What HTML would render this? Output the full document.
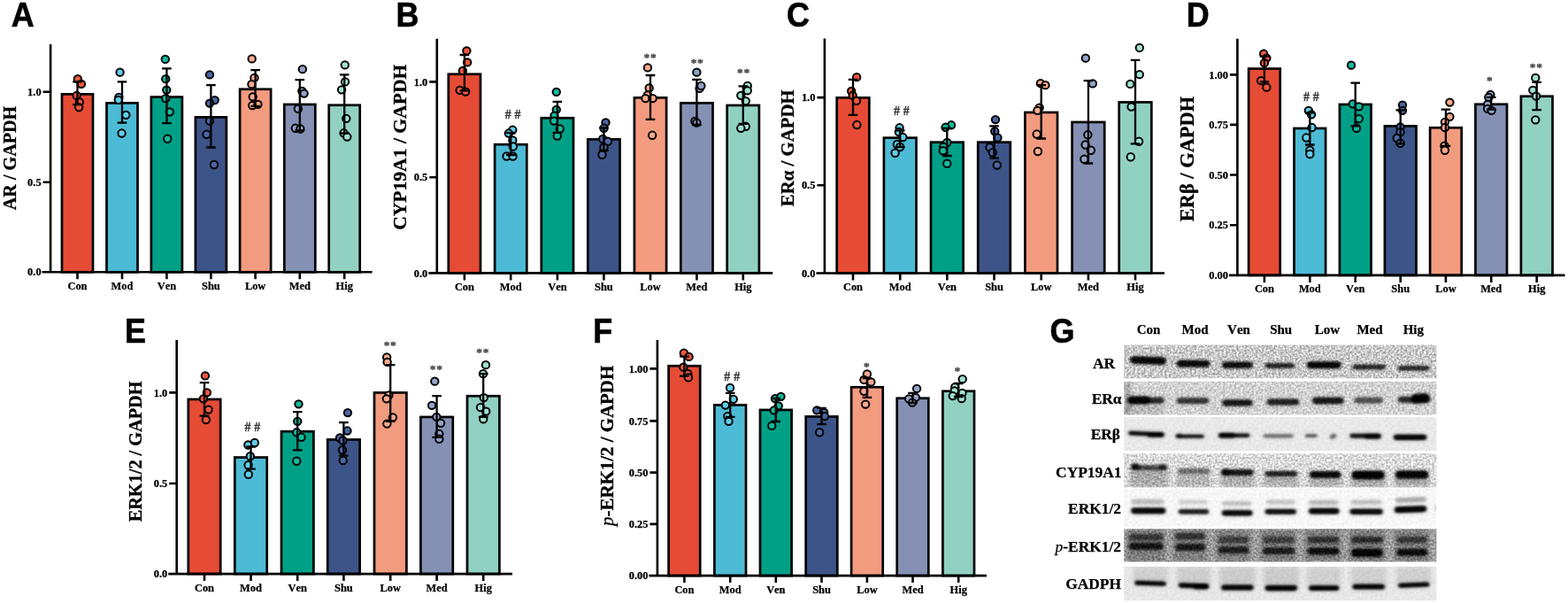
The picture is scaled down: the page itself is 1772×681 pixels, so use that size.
<!DOCTYPE html>
<html lang="en">
<head>
<meta charset="utf-8">
<title>Figure</title>
<style>
html,body{margin:0;padding:0;background:#fff}
svg{display:block}
text{font-family:"Liberation Serif",serif;font-weight:bold;fill:#000;font-kerning:none}
.t{font-size:12.4px;stroke:#000;stroke-width:.25px}
.y{stroke:#000;stroke-width:.3px}
.L{font-family:"Liberation Sans",sans-serif;font-size:39.3px;stroke:#000;stroke-width:.6px}
.h{font-size:13.8px;fill:#333;word-spacing:.6px;stroke:#333;stroke-width:.3px}
.s{font-size:13.5px;fill:#444;stroke:#444;stroke-width:.3px;letter-spacing:.7px}
.g{font-size:15px;stroke:#000;stroke-width:.25px}
.r{font-size:17.4px;stroke:#000;stroke-width:.25px}
</style>
</head>
<body>
<svg width="1772" height="681" viewBox="0 0 1772 681">
<rect width="1772" height="681" fill="#fff"/>
<defs><filter id="bl" x="-5%" y="-50%" width="110%" height="200%" color-interpolation-filters="sRGB"><feGaussianBlur stdDeviation="1.6 1.2"/></filter><filter id="bl3" x="-5%" y="-50%" width="110%" height="200%" color-interpolation-filters="sRGB"><feGaussianBlur stdDeviation="2.5"/></filter><filter id="nA" x="0" y="0" width="100%" height="100%" color-interpolation-filters="sRGB"><feTurbulence type="fractalNoise" baseFrequency="0.42" numOctaves="2" seed="4" result="t"/><feColorMatrix in="t" type="matrix" values="1 0 0 0 0 1 0 0 0 0 1 0 0 0 0 0 0 0 0 1" result="g"/><feComposite in="SourceGraphic" in2="g" operator="arithmetic" k1="0.77" k2="0.62" k3="0.14" k4="-0.07"/></filter><filter id="nB" x="0" y="0" width="100%" height="100%" color-interpolation-filters="sRGB"><feTurbulence type="fractalNoise" baseFrequency="0.4" numOctaves="2" seed="9" result="t"/><feColorMatrix in="t" type="matrix" values="1 0 0 0 0 1 0 0 0 0 1 0 0 0 0 0 0 0 0 1" result="g"/><feComposite in="SourceGraphic" in2="g" operator="arithmetic" k1="0.51" k2="0.74" k3="0.09" k4="-0.04"/></filter><filter id="nE" x="0" y="0" width="100%" height="100%" color-interpolation-filters="sRGB"><feTurbulence type="fractalNoise" baseFrequency="0.42" numOctaves="2" seed="11" result="t"/><feColorMatrix in="t" type="matrix" values="1 0 0 0 0 1 0 0 0 0 1 0 0 0 0 0 0 0 0 1" result="g"/><feComposite in="SourceGraphic" in2="g" operator="arithmetic" k1="0.59" k2="0.7" k3="0.1" k4="-0.05"/></filter><filter id="nC" x="0" y="0" width="100%" height="100%" color-interpolation-filters="sRGB"><feTurbulence type="fractalNoise" baseFrequency="0.35" numOctaves="2" seed="2" result="t"/><feColorMatrix in="t" type="matrix" values="1 0 0 0 0 1 0 0 0 0 1 0 0 0 0 0 0 0 0 1" result="g"/><feComposite in="SourceGraphic" in2="g" operator="arithmetic" k1="0.1" k2="0.95" k3="0.02" k4="-0.01"/></filter><filter id="nD" x="0" y="0" width="100%" height="100%" color-interpolation-filters="sRGB"><feTurbulence type="fractalNoise" baseFrequency="0.42" numOctaves="2" seed="7" result="t"/><feColorMatrix in="t" type="matrix" values="1 0 0 0 0 1 0 0 0 0 1 0 0 0 0 0 0 0 0 1" result="g"/><feComposite in="SourceGraphic" in2="g" operator="arithmetic" k1="0.77" k2="0.62" k3="0.14" k4="-0.07"/></filter></defs>
<g id="pA">
<rect x="70" y="106.35" width="35" height="200.95" fill="#E64B35" stroke="#000" stroke-width="2.7"/>
<rect x="120.5" y="116.35" width="35" height="190.95" fill="#4DBBD5" stroke="#000" stroke-width="2.7"/>
<rect x="170.9" y="109.55" width="35" height="197.75" fill="#00A087" stroke="#000" stroke-width="2.7"/>
<rect x="220.9" y="132.35" width="35" height="174.95" fill="#3C5488" stroke="#000" stroke-width="2.7"/>
<rect x="271.1" y="100.75" width="35" height="206.55" fill="#F39B7F" stroke="#000" stroke-width="2.7"/>
<rect x="321.3" y="117.95" width="35" height="189.35" fill="#8491B4" stroke="#000" stroke-width="2.7"/>
<rect x="371.7" y="118.75" width="35" height="188.55" fill="#91D1C2" stroke="#000" stroke-width="2.7"/>
<circle cx="87.89" cy="89.14" r="4.2" fill="#F0563C" stroke="#000" stroke-width="2"/>
<circle cx="91.89" cy="94.88" r="4.2" fill="#F0563C" stroke="#000" stroke-width="2"/>
<circle cx="86.64" cy="107.87" r="4.2" fill="#F0563C" stroke="#000" stroke-width="2"/>
<circle cx="89.89" cy="115.36" r="4.2" fill="#F0563C" stroke="#000" stroke-width="2"/>
<circle cx="89.14" cy="121.1" r="4.2" fill="#F0563C" stroke="#000" stroke-width="2"/>
<circle cx="135.58" cy="81.65" r="4.2" fill="#5FCFE9" stroke="#000" stroke-width="2"/>
<circle cx="134.33" cy="109.86" r="4.2" fill="#5FCFE9" stroke="#000" stroke-width="2"/>
<circle cx="133.83" cy="112.86" r="4.2" fill="#5FCFE9" stroke="#000" stroke-width="2"/>
<circle cx="142.32" cy="129.84" r="4.2" fill="#5FCFE9" stroke="#000" stroke-width="2"/>
<circle cx="137.58" cy="150.56" r="4.2" fill="#5FCFE9" stroke="#000" stroke-width="2"/>
<circle cx="186.77" cy="66.92" r="4.2" fill="#10BA9D" stroke="#000" stroke-width="2"/>
<circle cx="187.27" cy="89.14" r="4.2" fill="#10BA9D" stroke="#000" stroke-width="2"/>
<circle cx="188.26" cy="101.62" r="4.2" fill="#10BA9D" stroke="#000" stroke-width="2"/>
<circle cx="187.27" cy="111.11" r="4.2" fill="#10BA9D" stroke="#000" stroke-width="2"/>
<circle cx="191.76" cy="126.34" r="4.2" fill="#10BA9D" stroke="#000" stroke-width="2"/>
<circle cx="189.26" cy="156.8" r="4.2" fill="#10BA9D" stroke="#000" stroke-width="2"/>
<circle cx="236.98" cy="84.39" r="4.2" fill="#4A66A2" stroke="#000" stroke-width="2"/>
<circle cx="242.72" cy="113.11" r="4.2" fill="#4A66A2" stroke="#000" stroke-width="2"/>
<circle cx="236.98" cy="116.6" r="4.2" fill="#4A66A2" stroke="#000" stroke-width="2"/>
<circle cx="236.98" cy="136.58" r="4.2" fill="#4A66A2" stroke="#000" stroke-width="2"/>
<circle cx="233.49" cy="151.81" r="4.2" fill="#4A66A2" stroke="#000" stroke-width="2"/>
<circle cx="241.98" cy="186.02" r="4.2" fill="#4A66A2" stroke="#000" stroke-width="2"/>
<circle cx="284.67" cy="66.42" r="4.2" fill="#FAA98C" stroke="#000" stroke-width="2"/>
<circle cx="287.42" cy="87.89" r="4.2" fill="#FAA98C" stroke="#000" stroke-width="2"/>
<circle cx="284.42" cy="95.13" r="4.2" fill="#FAA98C" stroke="#000" stroke-width="2"/>
<circle cx="285.67" cy="109.36" r="4.2" fill="#FAA98C" stroke="#000" stroke-width="2"/>
<circle cx="285.17" cy="119.1" r="4.2" fill="#FAA98C" stroke="#000" stroke-width="2"/>
<circle cx="291.41" cy="117.85" r="4.2" fill="#FAA98C" stroke="#000" stroke-width="2"/>
<circle cx="341.85" cy="78.15" r="4.2" fill="#94A2C8" stroke="#000" stroke-width="2"/>
<circle cx="341.35" cy="102.87" r="4.2" fill="#94A2C8" stroke="#000" stroke-width="2"/>
<circle cx="343.6" cy="105.62" r="4.2" fill="#94A2C8" stroke="#000" stroke-width="2"/>
<circle cx="336.86" cy="122.85" r="4.2" fill="#94A2C8" stroke="#000" stroke-width="2"/>
<circle cx="333.86" cy="144.82" r="4.2" fill="#94A2C8" stroke="#000" stroke-width="2"/>
<circle cx="339.35" cy="145.57" r="4.2" fill="#94A2C8" stroke="#000" stroke-width="2"/>
<circle cx="389.79" cy="73.41" r="4.2" fill="#9FE2D2" stroke="#000" stroke-width="2"/>
<circle cx="390.04" cy="92.38" r="4.2" fill="#9FE2D2" stroke="#000" stroke-width="2"/>
<circle cx="386.04" cy="101.37" r="4.2" fill="#9FE2D2" stroke="#000" stroke-width="2"/>
<circle cx="391.29" cy="133.83" r="4.2" fill="#9FE2D2" stroke="#000" stroke-width="2"/>
<circle cx="388.54" cy="150.31" r="4.2" fill="#9FE2D2" stroke="#000" stroke-width="2"/>
<circle cx="392.29" cy="154.56" r="4.2" fill="#9FE2D2" stroke="#000" stroke-width="2"/>
<path d="M87.5 92.4V118.1M82.2 92.4h10.6M82.2 118.1h10.6M138 92.4V138.6M132.7 92.4h10.6M132.7 138.6h10.6M188.4 77.4V139.1M183.1 77.4h10.6M183.1 139.1h10.6M238.4 96.1V166.5M233.1 96.1h10.6M233.1 166.5h10.6M288.6 79.2V119.9M283.3 79.2h10.6M283.3 119.9h10.6M338.8 90.1V147.3M333.5 90.1h10.6M333.5 147.3h10.6M389.2 84.4V150.5M383.9 84.4h10.6M383.9 150.5h10.6" fill="none" stroke="#000" stroke-width="2.3"/>
<path d="M57.1 50V308.3M47.6 307.3H420.6M48.6 103.8h8.5M48.6 205.7h8.5M87.5 307.3v8M138 307.3v8M188.4 307.3v8M238.4 307.3v8M288.6 307.3v8M338.8 307.3v8M389.2 307.3v8" fill="none" stroke="#000" stroke-width="2.6"/>
<text class="t" x="46.6" y="107.9" text-anchor="end">1.0</text>
<text class="t" x="46.6" y="209.8" text-anchor="end">0.5</text>
<text class="t" x="46.6" y="311.4" text-anchor="end">0.0</text>
<text class="t" x="87.5" y="326.6" text-anchor="middle">Con</text>
<text class="t" x="138" y="326.6" text-anchor="middle">Mod</text>
<text class="t" x="188.4" y="326.6" text-anchor="middle">Ven</text>
<text class="t" x="238.4" y="326.6" text-anchor="middle">Shu</text>
<text class="t" x="288.6" y="326.6" text-anchor="middle">Low</text>
<text class="t" x="338.8" y="326.6" text-anchor="middle">Med</text>
<text class="t" x="389.2" y="326.6" text-anchor="middle">Hig</text>
<text class="y" font-size="20.15" transform="translate(18.3 178.5) rotate(-90)" text-anchor="middle">AR / GAPDH</text>
<text class="L" transform="translate(12.8 29.5) scale(0.915 1)">A</text>
</g>
<g id="pB">
<rect x="506.8" y="83.75" width="36.2" height="224.65" fill="#E64B35" stroke="#000" stroke-width="2.7"/>
<rect x="559.1" y="163.15" width="36.2" height="145.25" fill="#4DBBD5" stroke="#000" stroke-width="2.7"/>
<rect x="611.8" y="133.25" width="36.2" height="175.15" fill="#00A087" stroke="#000" stroke-width="2.7"/>
<rect x="664.3" y="157.35" width="36.2" height="151.05" fill="#3C5488" stroke="#000" stroke-width="2.7"/>
<rect x="716.9" y="110.35" width="36.2" height="198.05" fill="#F39B7F" stroke="#000" stroke-width="2.7"/>
<rect x="769.3" y="116.35" width="36.2" height="192.05" fill="#8491B4" stroke="#000" stroke-width="2.7"/>
<rect x="821.7" y="118.95" width="36.2" height="189.45" fill="#91D1C2" stroke="#000" stroke-width="2.7"/>
<circle cx="527.39" cy="57.43" r="4.2" fill="#F0563C" stroke="#000" stroke-width="2"/>
<circle cx="528.14" cy="70.41" r="4.2" fill="#F0563C" stroke="#000" stroke-width="2"/>
<circle cx="522.9" cy="79.9" r="4.2" fill="#F0563C" stroke="#000" stroke-width="2"/>
<circle cx="519.65" cy="101.87" r="4.2" fill="#F0563C" stroke="#000" stroke-width="2"/>
<circle cx="526.15" cy="103.62" r="4.2" fill="#F0563C" stroke="#000" stroke-width="2"/>
<circle cx="579.33" cy="146.82" r="4.2" fill="#5FCFE9" stroke="#000" stroke-width="2"/>
<circle cx="574.84" cy="150.56" r="4.2" fill="#5FCFE9" stroke="#000" stroke-width="2"/>
<circle cx="579.33" cy="158.55" r="4.2" fill="#5FCFE9" stroke="#000" stroke-width="2"/>
<circle cx="579.83" cy="165.54" r="4.2" fill="#5FCFE9" stroke="#000" stroke-width="2"/>
<circle cx="572.59" cy="176.53" r="4.2" fill="#5FCFE9" stroke="#000" stroke-width="2"/>
<circle cx="579.58" cy="176.53" r="4.2" fill="#5FCFE9" stroke="#000" stroke-width="2"/>
<circle cx="628.77" cy="103.87" r="4.2" fill="#10BA9D" stroke="#000" stroke-width="2"/>
<circle cx="628.77" cy="123.85" r="4.2" fill="#10BA9D" stroke="#000" stroke-width="2"/>
<circle cx="626.52" cy="130.59" r="4.2" fill="#10BA9D" stroke="#000" stroke-width="2"/>
<circle cx="626.02" cy="136.58" r="4.2" fill="#10BA9D" stroke="#000" stroke-width="2"/>
<circle cx="632.76" cy="145.57" r="4.2" fill="#10BA9D" stroke="#000" stroke-width="2"/>
<circle cx="629.77" cy="153.56" r="4.2" fill="#10BA9D" stroke="#000" stroke-width="2"/>
<circle cx="684.48" cy="138.33" r="4.2" fill="#4A66A2" stroke="#000" stroke-width="2"/>
<circle cx="682.48" cy="144.82" r="4.2" fill="#4A66A2" stroke="#000" stroke-width="2"/>
<circle cx="681.23" cy="157.05" r="4.2" fill="#4A66A2" stroke="#000" stroke-width="2"/>
<circle cx="686.97" cy="159.8" r="4.2" fill="#4A66A2" stroke="#000" stroke-width="2"/>
<circle cx="682.48" cy="166.54" r="4.2" fill="#4A66A2" stroke="#000" stroke-width="2"/>
<circle cx="680.48" cy="174.78" r="4.2" fill="#4A66A2" stroke="#000" stroke-width="2"/>
<circle cx="731.92" cy="76.4" r="4.2" fill="#FAA98C" stroke="#000" stroke-width="2"/>
<circle cx="733.66" cy="99.38" r="4.2" fill="#FAA98C" stroke="#000" stroke-width="2"/>
<circle cx="731.92" cy="107.37" r="4.2" fill="#FAA98C" stroke="#000" stroke-width="2"/>
<circle cx="729.42" cy="111.11" r="4.2" fill="#FAA98C" stroke="#000" stroke-width="2"/>
<circle cx="737.66" cy="111.11" r="4.2" fill="#FAA98C" stroke="#000" stroke-width="2"/>
<circle cx="737.16" cy="152.81" r="4.2" fill="#FAA98C" stroke="#000" stroke-width="2"/>
<circle cx="787.35" cy="81.65" r="4.2" fill="#94A2C8" stroke="#000" stroke-width="2"/>
<circle cx="790.59" cy="99.88" r="4.2" fill="#94A2C8" stroke="#000" stroke-width="2"/>
<circle cx="792.34" cy="96.88" r="4.2" fill="#94A2C8" stroke="#000" stroke-width="2"/>
<circle cx="785.35" cy="136.83" r="4.2" fill="#94A2C8" stroke="#000" stroke-width="2"/>
<circle cx="787.35" cy="138.58" r="4.2" fill="#94A2C8" stroke="#000" stroke-width="2"/>
<circle cx="844.78" cy="96.88" r="4.2" fill="#9FE2D2" stroke="#000" stroke-width="2"/>
<circle cx="844.78" cy="102.37" r="4.2" fill="#9FE2D2" stroke="#000" stroke-width="2"/>
<circle cx="837.28" cy="107.87" r="4.2" fill="#9FE2D2" stroke="#000" stroke-width="2"/>
<circle cx="842.78" cy="114.11" r="4.2" fill="#9FE2D2" stroke="#000" stroke-width="2"/>
<circle cx="842.78" cy="142.82" r="4.2" fill="#9FE2D2" stroke="#000" stroke-width="2"/>
<circle cx="837.28" cy="144.82" r="4.2" fill="#9FE2D2" stroke="#000" stroke-width="2"/>
<path d="M524.9 62V102.4M519.6 62h10.6M519.6 102.4h10.6M577.2 150V175M571.9 150h10.6M571.9 175h10.6M629.9 114.9V149.8M624.6 114.9h10.6M624.6 149.8h10.6M682.4 144.3V170M677.1 144.3h10.6M677.1 170h10.6M735 85V134.8M729.7 85h10.6M729.7 134.8h10.6M787.4 89.9V141M782.1 89.9h10.6M782.1 141h10.6M839.8 97.4V139.8M834.5 97.4h10.6M834.5 139.8h10.6" fill="none" stroke="#000" stroke-width="2.3"/>
<path d="M493.8 43.7V309.4M484.3 308.4H873.2M485.3 92.4h8.5M485.3 200.3h8.5M524.9 308.4v8M577.2 308.4v8M629.9 308.4v8M682.4 308.4v8M735 308.4v8M787.4 308.4v8M839.8 308.4v8" fill="none" stroke="#000" stroke-width="2.6"/>
<text class="t" x="483.3" y="96.5" text-anchor="end">1.0</text>
<text class="t" x="483.3" y="204.4" text-anchor="end">0.5</text>
<text class="t" x="483.3" y="312.5" text-anchor="end">0.0</text>
<text class="t" x="524.9" y="327.6" text-anchor="middle">Con</text>
<text class="t" x="577.2" y="327.6" text-anchor="middle">Mod</text>
<text class="t" x="629.9" y="327.6" text-anchor="middle">Ven</text>
<text class="t" x="682.4" y="327.6" text-anchor="middle">Shu</text>
<text class="t" x="735" y="327.6" text-anchor="middle">Low</text>
<text class="t" x="787.4" y="327.6" text-anchor="middle">Med</text>
<text class="t" x="839.8" y="327.6" text-anchor="middle">Hig</text>
<text class="h" x="579.58" y="133.84" text-anchor="middle"># #</text>
<text class="s" x="734.91" y="69.47" text-anchor="middle">**</text>
<text class="s" x="788.1" y="74.96" text-anchor="middle">**</text>
<text class="s" x="840.53" y="86.2" text-anchor="middle">**</text>
<text class="y" font-size="21.6" transform="translate(458.7 166.3) rotate(-90)" text-anchor="middle">CYP19A1 / GAPDH</text>
<text class="L" transform="translate(447.6 29.5) scale(0.915 1)">B</text>
</g>
<g id="pC">
<rect x="945.7" y="110.35" width="36.6" height="198.15" fill="#E64B35" stroke="#000" stroke-width="2.7"/>
<rect x="998.9" y="155.65" width="36.6" height="152.85" fill="#4DBBD5" stroke="#000" stroke-width="2.7"/>
<rect x="1052" y="160.65" width="36.6" height="147.85" fill="#00A087" stroke="#000" stroke-width="2.7"/>
<rect x="1105.2" y="160.65" width="36.6" height="147.85" fill="#3C5488" stroke="#000" stroke-width="2.7"/>
<rect x="1158.4" y="126.95" width="36.6" height="181.55" fill="#F39B7F" stroke="#000" stroke-width="2.7"/>
<rect x="1211.6" y="137.95" width="36.6" height="170.55" fill="#8491B4" stroke="#000" stroke-width="2.7"/>
<rect x="1264.7" y="115.45" width="36.6" height="193.05" fill="#91D1C2" stroke="#000" stroke-width="2.7"/>
<circle cx="968.15" cy="87.14" r="4.2" fill="#F0563C" stroke="#000" stroke-width="2"/>
<circle cx="962.15" cy="102.87" r="4.2" fill="#F0563C" stroke="#000" stroke-width="2"/>
<circle cx="963.65" cy="107.87" r="4.2" fill="#F0563C" stroke="#000" stroke-width="2"/>
<circle cx="967.9" cy="113.86" r="4.2" fill="#F0563C" stroke="#000" stroke-width="2"/>
<circle cx="968.4" cy="141.07" r="4.2" fill="#F0563C" stroke="#000" stroke-width="2"/>
<circle cx="1016.59" cy="144.32" r="4.2" fill="#5FCFE9" stroke="#000" stroke-width="2"/>
<circle cx="1015.84" cy="149.06" r="4.2" fill="#5FCFE9" stroke="#000" stroke-width="2"/>
<circle cx="1020.33" cy="155.06" r="4.2" fill="#5FCFE9" stroke="#000" stroke-width="2"/>
<circle cx="1013.84" cy="163.05" r="4.2" fill="#5FCFE9" stroke="#000" stroke-width="2"/>
<circle cx="1017.09" cy="166.04" r="4.2" fill="#5FCFE9" stroke="#000" stroke-width="2"/>
<circle cx="1011.59" cy="172.78" r="4.2" fill="#5FCFE9" stroke="#000" stroke-width="2"/>
<circle cx="1075.01" cy="141.32" r="4.2" fill="#10BA9D" stroke="#000" stroke-width="2"/>
<circle cx="1068.52" cy="143.82" r="4.2" fill="#10BA9D" stroke="#000" stroke-width="2"/>
<circle cx="1070.27" cy="161.05" r="4.2" fill="#10BA9D" stroke="#000" stroke-width="2"/>
<circle cx="1066.27" cy="166.04" r="4.2" fill="#10BA9D" stroke="#000" stroke-width="2"/>
<circle cx="1065.78" cy="170.29" r="4.2" fill="#10BA9D" stroke="#000" stroke-width="2"/>
<circle cx="1070.27" cy="184.77" r="4.2" fill="#10BA9D" stroke="#000" stroke-width="2"/>
<circle cx="1124.98" cy="135.08" r="4.2" fill="#4A66A2" stroke="#000" stroke-width="2"/>
<circle cx="1124.23" cy="148.31" r="4.2" fill="#4A66A2" stroke="#000" stroke-width="2"/>
<circle cx="1127.48" cy="155.56" r="4.2" fill="#4A66A2" stroke="#000" stroke-width="2"/>
<circle cx="1118.49" cy="166.54" r="4.2" fill="#4A66A2" stroke="#000" stroke-width="2"/>
<circle cx="1121.73" cy="172.28" r="4.2" fill="#4A66A2" stroke="#000" stroke-width="2"/>
<circle cx="1126.73" cy="186.52" r="4.2" fill="#4A66A2" stroke="#000" stroke-width="2"/>
<circle cx="1175.92" cy="94.13" r="4.2" fill="#FAA98C" stroke="#000" stroke-width="2"/>
<circle cx="1181.41" cy="96.13" r="4.2" fill="#FAA98C" stroke="#000" stroke-width="2"/>
<circle cx="1174.67" cy="121.6" r="4.2" fill="#FAA98C" stroke="#000" stroke-width="2"/>
<circle cx="1172.42" cy="124.84" r="4.2" fill="#FAA98C" stroke="#000" stroke-width="2"/>
<circle cx="1171.67" cy="151.56" r="4.2" fill="#FAA98C" stroke="#000" stroke-width="2"/>
<circle cx="1172.92" cy="171.04" r="4.2" fill="#FAA98C" stroke="#000" stroke-width="2"/>
<circle cx="1226.85" cy="65.67" r="4.2" fill="#94A2C8" stroke="#000" stroke-width="2"/>
<circle cx="1234.84" cy="94.38" r="4.2" fill="#94A2C8" stroke="#000" stroke-width="2"/>
<circle cx="1229.35" cy="152.31" r="4.2" fill="#94A2C8" stroke="#000" stroke-width="2"/>
<circle cx="1226.6" cy="163.55" r="4.2" fill="#94A2C8" stroke="#000" stroke-width="2"/>
<circle cx="1232.84" cy="169.79" r="4.2" fill="#94A2C8" stroke="#000" stroke-width="2"/>
<circle cx="1225.35" cy="179.78" r="4.2" fill="#94A2C8" stroke="#000" stroke-width="2"/>
<circle cx="1287.78" cy="53.93" r="4.2" fill="#9FE2D2" stroke="#000" stroke-width="2"/>
<circle cx="1287.78" cy="84.14" r="4.2" fill="#9FE2D2" stroke="#000" stroke-width="2"/>
<circle cx="1277.29" cy="94.88" r="4.2" fill="#9FE2D2" stroke="#000" stroke-width="2"/>
<circle cx="1278.54" cy="120.6" r="4.2" fill="#9FE2D2" stroke="#000" stroke-width="2"/>
<circle cx="1287.03" cy="159.8" r="4.2" fill="#9FE2D2" stroke="#000" stroke-width="2"/>
<circle cx="1277.79" cy="177.28" r="4.2" fill="#9FE2D2" stroke="#000" stroke-width="2"/>
<path d="M964 89.9V129.8M958.7 89.9h10.6M958.7 129.8h10.6M1017.2 147.3V166M1011.9 147.3h10.6M1011.9 166h10.6M1070.3 144.8V176M1065 144.8h10.6M1065 176h10.6M1123.5 142.3V178.7M1118.2 142.3h10.6M1118.2 178.7h10.6M1176.7 96.1V156.5M1171.4 96.1h10.6M1171.4 156.5h10.6M1229.9 91.1V184.5M1224.6 91.1h10.6M1224.6 184.5h10.6M1283 67.9V162.3M1277.7 67.9h10.6M1277.7 162.3h10.6" fill="none" stroke="#000" stroke-width="2.3"/>
<path d="M931.9 43.5V309.5M922.4 308.5H1316M923.4 110.1h8.5M923.4 209.3h8.5M964 308.5v8M1017.2 308.5v8M1070.3 308.5v8M1123.5 308.5v8M1176.7 308.5v8M1229.9 308.5v8M1283 308.5v8" fill="none" stroke="#000" stroke-width="2.6"/>
<text class="t" x="921.4" y="114.2" text-anchor="end">1.0</text>
<text class="t" x="921.4" y="213.4" text-anchor="end">0.5</text>
<text class="t" x="921.4" y="312.6" text-anchor="end">0.0</text>
<text class="t" x="964" y="328" text-anchor="middle">Con</text>
<text class="t" x="1017.2" y="328" text-anchor="middle">Mod</text>
<text class="t" x="1070.3" y="328" text-anchor="middle">Ven</text>
<text class="t" x="1123.5" y="328" text-anchor="middle">Shu</text>
<text class="t" x="1176.7" y="328" text-anchor="middle">Low</text>
<text class="t" x="1229.9" y="328" text-anchor="middle">Med</text>
<text class="t" x="1283" y="328" text-anchor="middle">Hig</text>
<text class="h" x="1018.83" y="129.59" text-anchor="middle"># #</text>
<text class="y" font-size="20.8" transform="translate(896.8 167.3) rotate(-90)" text-anchor="middle">ERα / GAPDH</text>
<text class="L" transform="translate(889 29.5) scale(0.915 1)">C</text>
</g>
<g id="pD">
<rect x="1411.1" y="77.55" width="35.6" height="233.35" fill="#E64B35" stroke="#000" stroke-width="2.7"/>
<rect x="1462.5" y="144.95" width="35.6" height="165.95" fill="#4DBBD5" stroke="#000" stroke-width="2.7"/>
<rect x="1513.9" y="117.95" width="35.6" height="192.95" fill="#00A087" stroke="#000" stroke-width="2.7"/>
<rect x="1564.9" y="142.35" width="35.6" height="168.55" fill="#3C5488" stroke="#000" stroke-width="2.7"/>
<rect x="1616.1" y="144.25" width="35.6" height="166.65" fill="#F39B7F" stroke="#000" stroke-width="2.7"/>
<rect x="1667.4" y="117.75" width="35.6" height="193.15" fill="#8491B4" stroke="#000" stroke-width="2.7"/>
<rect x="1718.9" y="108.75" width="35.6" height="202.15" fill="#91D1C2" stroke="#000" stroke-width="2.7"/>
<circle cx="1428.13" cy="60.67" r="4.2" fill="#F0563C" stroke="#000" stroke-width="2"/>
<circle cx="1431.37" cy="65.67" r="4.2" fill="#F0563C" stroke="#000" stroke-width="2"/>
<circle cx="1428.88" cy="71.16" r="4.2" fill="#F0563C" stroke="#000" stroke-width="2"/>
<circle cx="1425.13" cy="91.14" r="4.2" fill="#F0563C" stroke="#000" stroke-width="2"/>
<circle cx="1431.37" cy="98.63" r="4.2" fill="#F0563C" stroke="#000" stroke-width="2"/>
<circle cx="1478.81" cy="124.84" r="4.2" fill="#5FCFE9" stroke="#000" stroke-width="2"/>
<circle cx="1482.06" cy="129.34" r="4.2" fill="#5FCFE9" stroke="#000" stroke-width="2"/>
<circle cx="1482.56" cy="144.07" r="4.2" fill="#5FCFE9" stroke="#000" stroke-width="2"/>
<circle cx="1476.32" cy="155.56" r="4.2" fill="#5FCFE9" stroke="#000" stroke-width="2"/>
<circle cx="1480.31" cy="169.79" r="4.2" fill="#5FCFE9" stroke="#000" stroke-width="2"/>
<circle cx="1480.31" cy="174.03" r="4.2" fill="#5FCFE9" stroke="#000" stroke-width="2"/>
<circle cx="1527" cy="73.66" r="4.2" fill="#10BA9D" stroke="#000" stroke-width="2"/>
<circle cx="1528.75" cy="117.35" r="4.2" fill="#10BA9D" stroke="#000" stroke-width="2"/>
<circle cx="1535.74" cy="120.35" r="4.2" fill="#10BA9D" stroke="#000" stroke-width="2"/>
<circle cx="1535.74" cy="134.08" r="4.2" fill="#10BA9D" stroke="#000" stroke-width="2"/>
<circle cx="1533" cy="144.82" r="4.2" fill="#10BA9D" stroke="#000" stroke-width="2"/>
<circle cx="1584.96" cy="118.6" r="4.2" fill="#4A66A2" stroke="#000" stroke-width="2"/>
<circle cx="1584.96" cy="124.84" r="4.2" fill="#4A66A2" stroke="#000" stroke-width="2"/>
<circle cx="1582.46" cy="143.57" r="4.2" fill="#4A66A2" stroke="#000" stroke-width="2"/>
<circle cx="1582.46" cy="149.31" r="4.2" fill="#4A66A2" stroke="#000" stroke-width="2"/>
<circle cx="1578.71" cy="156.05" r="4.2" fill="#4A66A2" stroke="#000" stroke-width="2"/>
<circle cx="1582.46" cy="161.8" r="4.2" fill="#4A66A2" stroke="#000" stroke-width="2"/>
<circle cx="1638.39" cy="115.61" r="4.2" fill="#FAA98C" stroke="#000" stroke-width="2"/>
<circle cx="1638.39" cy="131.84" r="4.2" fill="#FAA98C" stroke="#000" stroke-width="2"/>
<circle cx="1632.9" cy="137.83" r="4.2" fill="#FAA98C" stroke="#000" stroke-width="2"/>
<circle cx="1632.9" cy="144.07" r="4.2" fill="#FAA98C" stroke="#000" stroke-width="2"/>
<circle cx="1632.4" cy="164.79" r="4.2" fill="#FAA98C" stroke="#000" stroke-width="2"/>
<circle cx="1632.9" cy="169.79" r="4.2" fill="#FAA98C" stroke="#000" stroke-width="2"/>
<circle cx="1684.33" cy="106.87" r="4.2" fill="#94A2C8" stroke="#000" stroke-width="2"/>
<circle cx="1682.33" cy="109.86" r="4.2" fill="#94A2C8" stroke="#000" stroke-width="2"/>
<circle cx="1681.09" cy="117.85" r="4.2" fill="#94A2C8" stroke="#000" stroke-width="2"/>
<circle cx="1681.09" cy="122.85" r="4.2" fill="#94A2C8" stroke="#000" stroke-width="2"/>
<circle cx="1685.58" cy="124.84" r="4.2" fill="#94A2C8" stroke="#000" stroke-width="2"/>
<circle cx="1735.27" cy="87.89" r="4.2" fill="#9FE2D2" stroke="#000" stroke-width="2"/>
<circle cx="1732.27" cy="101.87" r="4.2" fill="#9FE2D2" stroke="#000" stroke-width="2"/>
<circle cx="1736.02" cy="108.61" r="4.2" fill="#9FE2D2" stroke="#000" stroke-width="2"/>
<circle cx="1735.27" cy="135.33" r="4.2" fill="#9FE2D2" stroke="#000" stroke-width="2"/>
<path d="M1428.9 63.7V92.4M1423.6 63.7h10.6M1423.6 92.4h10.6M1480.3 127.3V163.5M1475 127.3h10.6M1475 163.5h10.6M1531.7 93.6V142.3M1526.4 93.6h10.6M1526.4 142.3h10.6M1582.7 124.3V162.3M1577.4 124.3h10.6M1577.4 162.3h10.6M1633.9 123.6V164.8M1628.6 123.6h10.6M1628.6 164.8h10.6M1685.2 109.9V123.6M1679.9 109.9h10.6M1679.9 123.6h10.6M1736.7 92.9V124.1M1731.4 92.9h10.6M1731.4 124.1h10.6" fill="none" stroke="#000" stroke-width="2.3"/>
<path d="M1398.4 43.7V311.9M1388.9 310.9H1768.5M1389.9 84.4h8.5M1389.9 140.9h8.5M1389.9 197.5h8.5M1389.9 254.2h8.5M1428.9 310.9v8M1480.3 310.9v8M1531.7 310.9v8M1582.7 310.9v8M1633.9 310.9v8M1685.2 310.9v8M1736.7 310.9v8" fill="none" stroke="#000" stroke-width="2.6"/>
<text class="t" x="1387.9" y="88.5" text-anchor="end">1.00</text>
<text class="t" x="1387.9" y="145" text-anchor="end">0.75</text>
<text class="t" x="1387.9" y="201.6" text-anchor="end">0.50</text>
<text class="t" x="1387.9" y="258.3" text-anchor="end">0.25</text>
<text class="t" x="1387.9" y="315" text-anchor="end">0.00</text>
<text class="t" x="1428.9" y="330" text-anchor="middle">Con</text>
<text class="t" x="1480.3" y="330" text-anchor="middle">Mod</text>
<text class="t" x="1531.7" y="330" text-anchor="middle">Ven</text>
<text class="t" x="1582.7" y="330" text-anchor="middle">Shu</text>
<text class="t" x="1633.9" y="330" text-anchor="middle">Low</text>
<text class="t" x="1685.2" y="330" text-anchor="middle">Med</text>
<text class="t" x="1736.7" y="330" text-anchor="middle">Hig</text>
<text class="h" x="1481.81" y="113.86" text-anchor="middle"># #</text>
<text class="s" x="1683.83" y="95.19" text-anchor="middle">*</text>
<text class="s" x="1736.27" y="79.96" text-anchor="middle">**</text>
<text class="y" font-size="22.45" transform="translate(1349 179.5) rotate(-90)" text-anchor="middle">ERβ / GAPDH</text>
<text class="L" transform="translate(1340.8 29.5) scale(0.915 1)">D</text>
</g>
<g id="pE">
<rect x="212.8" y="450.95" width="36.4" height="197.15" fill="#E64B35" stroke="#000" stroke-width="2.7"/>
<rect x="265.3" y="516.55" width="36.4" height="131.55" fill="#4DBBD5" stroke="#000" stroke-width="2.7"/>
<rect x="318" y="487.25" width="36.4" height="160.85" fill="#00A087" stroke="#000" stroke-width="2.7"/>
<rect x="370.2" y="496.45" width="36.4" height="151.65" fill="#3C5488" stroke="#000" stroke-width="2.7"/>
<rect x="423" y="443.45" width="36.4" height="204.65" fill="#F39B7F" stroke="#000" stroke-width="2.7"/>
<rect x="475.4" y="470.95" width="36.4" height="177.15" fill="#8491B4" stroke="#000" stroke-width="2.7"/>
<rect x="528" y="447.25" width="36.4" height="200.85" fill="#91D1C2" stroke="#000" stroke-width="2.7"/>
<circle cx="231.87" cy="424.4" r="4.2" fill="#F0563C" stroke="#000" stroke-width="2"/>
<circle cx="233.87" cy="443.37" r="4.2" fill="#F0563C" stroke="#000" stroke-width="2"/>
<circle cx="229.88" cy="450.36" r="4.2" fill="#F0563C" stroke="#000" stroke-width="2"/>
<circle cx="235.62" cy="462.6" r="4.2" fill="#F0563C" stroke="#000" stroke-width="2"/>
<circle cx="232.87" cy="474.08" r="4.2" fill="#F0563C" stroke="#000" stroke-width="2"/>
<circle cx="280.31" cy="502.55" r="4.2" fill="#5FCFE9" stroke="#000" stroke-width="2"/>
<circle cx="287.8" cy="500.05" r="4.2" fill="#5FCFE9" stroke="#000" stroke-width="2"/>
<circle cx="282.81" cy="515.28" r="4.2" fill="#5FCFE9" stroke="#000" stroke-width="2"/>
<circle cx="280.56" cy="525.27" r="4.2" fill="#5FCFE9" stroke="#000" stroke-width="2"/>
<circle cx="280.81" cy="535.76" r="4.2" fill="#5FCFE9" stroke="#000" stroke-width="2"/>
<circle cx="337.49" cy="456.36" r="4.2" fill="#10BA9D" stroke="#000" stroke-width="2"/>
<circle cx="336.24" cy="475.83" r="4.2" fill="#10BA9D" stroke="#000" stroke-width="2"/>
<circle cx="335.24" cy="488.32" r="4.2" fill="#10BA9D" stroke="#000" stroke-width="2"/>
<circle cx="340.49" cy="493.81" r="4.2" fill="#10BA9D" stroke="#000" stroke-width="2"/>
<circle cx="335.24" cy="520.78" r="4.2" fill="#10BA9D" stroke="#000" stroke-width="2"/>
<circle cx="392.95" cy="466.09" r="4.2" fill="#4A66A2" stroke="#000" stroke-width="2"/>
<circle cx="392.45" cy="486.57" r="4.2" fill="#4A66A2" stroke="#000" stroke-width="2"/>
<circle cx="383.96" cy="494.56" r="4.2" fill="#4A66A2" stroke="#000" stroke-width="2"/>
<circle cx="387.46" cy="497.55" r="4.2" fill="#4A66A2" stroke="#000" stroke-width="2"/>
<circle cx="386.96" cy="508.29" r="4.2" fill="#4A66A2" stroke="#000" stroke-width="2"/>
<circle cx="387.71" cy="520.03" r="4.2" fill="#4A66A2" stroke="#000" stroke-width="2"/>
<circle cx="437.14" cy="403.42" r="4.2" fill="#FAA98C" stroke="#000" stroke-width="2"/>
<circle cx="437.64" cy="408.92" r="4.2" fill="#FAA98C" stroke="#000" stroke-width="2"/>
<circle cx="439.39" cy="446.37" r="4.2" fill="#FAA98C" stroke="#000" stroke-width="2"/>
<circle cx="436.89" cy="450.36" r="4.2" fill="#FAA98C" stroke="#000" stroke-width="2"/>
<circle cx="443.89" cy="471.34" r="4.2" fill="#FAA98C" stroke="#000" stroke-width="2"/>
<circle cx="437.39" cy="478.58" r="4.2" fill="#FAA98C" stroke="#000" stroke-width="2"/>
<circle cx="491.33" cy="430.64" r="4.2" fill="#94A2C8" stroke="#000" stroke-width="2"/>
<circle cx="488.08" cy="457.85" r="4.2" fill="#94A2C8" stroke="#000" stroke-width="2"/>
<circle cx="493.32" cy="470.84" r="4.2" fill="#94A2C8" stroke="#000" stroke-width="2"/>
<circle cx="498.07" cy="477.83" r="4.2" fill="#94A2C8" stroke="#000" stroke-width="2"/>
<circle cx="496.32" cy="490.06" r="4.2" fill="#94A2C8" stroke="#000" stroke-width="2"/>
<circle cx="496.32" cy="495.81" r="4.2" fill="#94A2C8" stroke="#000" stroke-width="2"/>
<circle cx="549" cy="412.16" r="4.2" fill="#9FE2D2" stroke="#000" stroke-width="2"/>
<circle cx="546.01" cy="422.15" r="4.2" fill="#9FE2D2" stroke="#000" stroke-width="2"/>
<circle cx="546.76" cy="449.11" r="4.2" fill="#9FE2D2" stroke="#000" stroke-width="2"/>
<circle cx="543.01" cy="460.1" r="4.2" fill="#9FE2D2" stroke="#000" stroke-width="2"/>
<circle cx="549.25" cy="464.6" r="4.2" fill="#9FE2D2" stroke="#000" stroke-width="2"/>
<circle cx="546.26" cy="473.33" r="4.2" fill="#9FE2D2" stroke="#000" stroke-width="2"/>
<path d="M231 432.1V469.6M225.7 432.1h10.6M225.7 469.6h10.6M283.5 504.5V529.7M278.2 504.5h10.6M278.2 529.7h10.6M336.2 465.1V508.3M330.9 465.1h10.6M330.9 508.3h10.6M388.4 477.1V514.7M383.1 477.1h10.6M383.1 514.7h10.6M441.2 412.2V475.8M435.9 412.2h10.6M435.9 475.8h10.6M493.6 447.1V493.8M488.3 447.1h10.6M488.3 493.8h10.6M546.2 422.2V470.8M540.9 422.2h10.6M540.9 470.8h10.6" fill="none" stroke="#000" stroke-width="2.3"/>
<path d="M199.7 384V649.1M190.2 648.1H579M191.2 443.4h8.5M191.2 546h8.5M231 648.1v8M283.5 648.1v8M336.2 648.1v8M388.4 648.1v8M441.2 648.1v8M493.6 648.1v8M546.2 648.1v8" fill="none" stroke="#000" stroke-width="2.6"/>
<text class="t" x="189.2" y="447.5" text-anchor="end">1.0</text>
<text class="t" x="189.2" y="550.1" text-anchor="end">0.5</text>
<text class="t" x="189.2" y="652.2" text-anchor="end">0.0</text>
<text class="t" x="231" y="667.5" text-anchor="middle">Con</text>
<text class="t" x="283.5" y="667.5" text-anchor="middle">Mod</text>
<text class="t" x="336.2" y="667.5" text-anchor="middle">Ven</text>
<text class="t" x="388.4" y="667.5" text-anchor="middle">Shu</text>
<text class="t" x="441.2" y="667.5" text-anchor="middle">Low</text>
<text class="t" x="493.6" y="667.5" text-anchor="middle">Med</text>
<text class="t" x="546.2" y="667.5" text-anchor="middle">Hig</text>
<text class="h" x="285.31" y="486.57" text-anchor="middle"># #</text>
<text class="s" x="441.14" y="393.74" text-anchor="middle">**</text>
<text class="s" x="493.32" y="420.71" text-anchor="middle">**</text>
<text class="s" x="545.76" y="402.48" text-anchor="middle">**</text>
<text class="y" font-size="20.3" transform="translate(160 509.9) rotate(-90)" text-anchor="middle">ERK1/2 / GAPDH</text>
<text class="L" transform="translate(140.9 386.9) scale(0.915 1)">E</text>
</g>
<g id="pF">
<rect x="755.6" y="413.25" width="35.6" height="236.85" fill="#E64B35" stroke="#000" stroke-width="2.7"/>
<rect x="807.4" y="457.45" width="35.6" height="192.65" fill="#4DBBD5" stroke="#000" stroke-width="2.7"/>
<rect x="859" y="462.95" width="35.6" height="187.15" fill="#00A087" stroke="#000" stroke-width="2.7"/>
<rect x="910.7" y="470.45" width="35.6" height="179.65" fill="#3C5488" stroke="#000" stroke-width="2.7"/>
<rect x="962.1" y="437.25" width="35.6" height="212.85" fill="#F39B7F" stroke="#000" stroke-width="2.7"/>
<rect x="1013.7" y="449.75" width="35.6" height="200.35" fill="#8491B4" stroke="#000" stroke-width="2.7"/>
<rect x="1065.4" y="441.75" width="35.6" height="208.35" fill="#91D1C2" stroke="#000" stroke-width="2.7"/>
<circle cx="772.86" cy="398.68" r="4.2" fill="#F0563C" stroke="#000" stroke-width="2"/>
<circle cx="778.6" cy="402.92" r="4.2" fill="#F0563C" stroke="#000" stroke-width="2"/>
<circle cx="772.36" cy="414.66" r="4.2" fill="#F0563C" stroke="#000" stroke-width="2"/>
<circle cx="777.35" cy="422.15" r="4.2" fill="#F0563C" stroke="#000" stroke-width="2"/>
<circle cx="777.85" cy="426.39" r="4.2" fill="#F0563C" stroke="#000" stroke-width="2"/>
<circle cx="825.04" cy="437.88" r="4.2" fill="#5FCFE9" stroke="#000" stroke-width="2"/>
<circle cx="828.79" cy="450.86" r="4.2" fill="#5FCFE9" stroke="#000" stroke-width="2"/>
<circle cx="819.8" cy="457.6" r="4.2" fill="#5FCFE9" stroke="#000" stroke-width="2"/>
<circle cx="822.3" cy="470.09" r="4.2" fill="#5FCFE9" stroke="#000" stroke-width="2"/>
<circle cx="823.55" cy="475.83" r="4.2" fill="#5FCFE9" stroke="#000" stroke-width="2"/>
<circle cx="875.98" cy="450.11" r="4.2" fill="#10BA9D" stroke="#000" stroke-width="2"/>
<circle cx="882.47" cy="447.87" r="4.2" fill="#10BA9D" stroke="#000" stroke-width="2"/>
<circle cx="879.73" cy="458.35" r="4.2" fill="#10BA9D" stroke="#000" stroke-width="2"/>
<circle cx="874.73" cy="463.35" r="4.2" fill="#10BA9D" stroke="#000" stroke-width="2"/>
<circle cx="872.23" cy="480.83" r="4.2" fill="#10BA9D" stroke="#000" stroke-width="2"/>
<circle cx="923.2" cy="463.35" r="4.2" fill="#4A66A2" stroke="#000" stroke-width="2"/>
<circle cx="931.19" cy="465.84" r="4.2" fill="#4A66A2" stroke="#000" stroke-width="2"/>
<circle cx="931.94" cy="470.09" r="4.2" fill="#4A66A2" stroke="#000" stroke-width="2"/>
<circle cx="926.19" cy="488.32" r="4.2" fill="#4A66A2" stroke="#000" stroke-width="2"/>
<circle cx="979.88" cy="422.4" r="4.2" fill="#FAA98C" stroke="#000" stroke-width="2"/>
<circle cx="976.38" cy="428.89" r="4.2" fill="#FAA98C" stroke="#000" stroke-width="2"/>
<circle cx="984.37" cy="431.39" r="4.2" fill="#FAA98C" stroke="#000" stroke-width="2"/>
<circle cx="976.38" cy="441.87" r="4.2" fill="#FAA98C" stroke="#000" stroke-width="2"/>
<circle cx="978.13" cy="456.61" r="4.2" fill="#FAA98C" stroke="#000" stroke-width="2"/>
<circle cx="1036.06" cy="438.88" r="4.2" fill="#94A2C8" stroke="#000" stroke-width="2"/>
<circle cx="1034.81" cy="448.87" r="4.2" fill="#94A2C8" stroke="#000" stroke-width="2"/>
<circle cx="1027.07" cy="450.36" r="4.2" fill="#94A2C8" stroke="#000" stroke-width="2"/>
<circle cx="1031.06" cy="454.61" r="4.2" fill="#94A2C8" stroke="#000" stroke-width="2"/>
<circle cx="1087.74" cy="428.14" r="4.2" fill="#9FE2D2" stroke="#000" stroke-width="2"/>
<circle cx="1079.25" cy="437.13" r="4.2" fill="#9FE2D2" stroke="#000" stroke-width="2"/>
<circle cx="1078.75" cy="441.37" r="4.2" fill="#9FE2D2" stroke="#000" stroke-width="2"/>
<circle cx="1087.49" cy="443.87" r="4.2" fill="#9FE2D2" stroke="#000" stroke-width="2"/>
<circle cx="1076.76" cy="447.12" r="4.2" fill="#9FE2D2" stroke="#000" stroke-width="2"/>
<circle cx="1086.74" cy="450.11" r="4.2" fill="#9FE2D2" stroke="#000" stroke-width="2"/>
<path d="M773.4 402.7V424.6M768.1 402.7h10.6M768.1 424.6h10.6M825.2 443.9V470.8M819.9 443.9h10.6M819.9 470.8h10.6M876.8 450V476M871.5 450h10.6M871.5 476h10.6M928.5 460.8V479.1M923.2 460.8h10.6M923.2 479.1h10.6M979.9 427.1V448.9M974.6 427.1h10.6M974.6 448.9h10.6M1031.5 443.9V455M1026.2 443.9h10.6M1026.2 455h10.6M1083.2 433V448M1077.9 433h10.6M1077.9 448h10.6" fill="none" stroke="#000" stroke-width="2.3"/>
<path d="M742.9 384V651.1M733.4 650.1H1115M734.4 416.4h8.5M734.4 475.4h8.5M734.4 533.6h8.5M734.4 591.9h8.5M773.4 650.1v8M825.2 650.1v8M876.8 650.1v8M928.5 650.1v8M979.9 650.1v8M1031.5 650.1v8M1083.2 650.1v8" fill="none" stroke="#000" stroke-width="2.6"/>
<text class="t" x="732.4" y="420.5" text-anchor="end">1.00</text>
<text class="t" x="732.4" y="479.5" text-anchor="end">0.75</text>
<text class="t" x="732.4" y="537.7" text-anchor="end">0.50</text>
<text class="t" x="732.4" y="596" text-anchor="end">0.25</text>
<text class="t" x="732.4" y="654.2" text-anchor="end">0.00</text>
<text class="t" x="773.4" y="669.5" text-anchor="middle">Con</text>
<text class="t" x="825.2" y="669.5" text-anchor="middle">Mod</text>
<text class="t" x="876.8" y="669.5" text-anchor="middle">Ven</text>
<text class="t" x="928.5" y="669.5" text-anchor="middle">Shu</text>
<text class="t" x="979.9" y="669.5" text-anchor="middle">Low</text>
<text class="t" x="1031.5" y="669.5" text-anchor="middle">Med</text>
<text class="t" x="1083.2" y="669.5" text-anchor="middle">Hig</text>
<text class="h" x="827.29" y="430.39" text-anchor="middle"># #</text>
<text class="s" x="979.63" y="417.71" text-anchor="middle">*</text>
<text class="s" x="1082.25" y="422.71" text-anchor="middle">*</text>
<text class="y" font-size="20.9" transform="translate(693.2 503.4) rotate(-90)" text-anchor="middle"><tspan font-style="italic" font-weight="normal">p</tspan>-ERK1/2 / GAPDH</text>
<text class="L" transform="translate(670.2 386.9) scale(0.915 1)">F</text>
</g>
<g id="pG">
<text class="L" transform="translate(1186.5 386.9) scale(0.915 1)">G</text>
<text class="g" x="1298" y="377.4" text-anchor="middle">Con</text>
<text class="g" x="1350.5" y="377.4" text-anchor="middle">Mod</text>
<text class="g" x="1400" y="377.4" text-anchor="middle">Ven</text>
<text class="g" x="1447.7" y="377.4" text-anchor="middle">Shu</text>
<text class="g" x="1500" y="377.4" text-anchor="middle">Low</text>
<text class="g" x="1548" y="377.4" text-anchor="middle">Med</text>
<text class="g" x="1597.3" y="377.4" text-anchor="middle">Hig</text>
<text class="r" x="1260" y="416.3" text-anchor="end">AR</text>
<text class="r" x="1267.5" y="455.8" text-anchor="end">ERα</text>
<text class="r" x="1266" y="496.3" text-anchor="end">ERβ</text>
<text class="r" x="1267.5" y="539.3" text-anchor="end">CYP19A1</text>
<text class="r" x="1267" y="580" text-anchor="end">ERK1/2</text>
<text class="r" x="1267" y="622.5" text-anchor="end"><tspan font-style="italic" font-weight="normal">p</tspan>-ERK1/2</text>
<text class="r" x="1267" y="665" text-anchor="end">GADPH</text>
<svg x="1270.2" y="389.5" width="353.2" height="37.7" viewBox="1270.2 389.5 353.2 37.7" overflow="hidden">
<g filter="url(#nA)">
<rect x="1265.2" y="384.5" width="363.2" height="47.7" fill="#c9c9c9"/>
<g filter="url(#bl3)" opacity="0.4"><rect x="1277.33" y="403" width="40.22" height="8.07" rx="4.03" fill="#000" fill-opacity="0.95" transform="rotate(2 1297.44 407.04)"/><rect x="1329.85" y="407.02" width="37.13" height="7.45" rx="3.73" fill="#000" fill-opacity="0.92"/><rect x="1381.35" y="408.67" width="34.05" height="7.04" rx="3.52" fill="#000" fill-opacity="0.9"/><rect x="1429.75" y="410.32" width="33.02" height="5.39" rx="2.7" fill="#000" fill-opacity="0.78"/><rect x="1477.12" y="408.46" width="38.16" height="7.45" rx="3.73" fill="#000" fill-opacity="0.95"/><rect x="1528.62" y="411.76" width="37.13" height="5.39" rx="2.7" fill="#000" fill-opacity="0.75"/><rect x="1580.11" y="412.99" width="35.08" height="5.39" rx="2.7" fill="#000" fill-opacity="0.72"/></g>
<g filter="url(#bl)"><rect x="1277.33" y="403" width="40.22" height="8.07" rx="4.03" fill="#000" fill-opacity="0.95" transform="rotate(2 1297.44 407.04)"/><rect x="1329.85" y="407.02" width="37.13" height="7.45" rx="3.73" fill="#000" fill-opacity="0.92"/><rect x="1381.35" y="408.67" width="34.05" height="7.04" rx="3.52" fill="#000" fill-opacity="0.9"/><rect x="1429.75" y="410.32" width="33.02" height="5.39" rx="2.7" fill="#000" fill-opacity="0.78"/><rect x="1477.12" y="408.46" width="38.16" height="7.45" rx="3.73" fill="#000" fill-opacity="0.95"/><rect x="1528.62" y="411.76" width="37.13" height="5.39" rx="2.7" fill="#000" fill-opacity="0.75"/><rect x="1580.11" y="412.99" width="35.08" height="5.39" rx="2.7" fill="#000" fill-opacity="0.72"/></g>
</g>
</svg>
<svg x="1270.2" y="430.7" width="353.2" height="37.7" viewBox="1270.2 430.7 353.2 37.7" overflow="hidden">
<g filter="url(#nB)">
<rect x="1265.2" y="425.7" width="363.2" height="47.7" fill="#d2d2d2"/>
<g filter="url(#bl3)"><rect x="1270.15" y="430.73" width="7.21" height="37.69" fill="#000" fill-opacity="0.25"/><rect x="1270.15" y="458.12" width="44.28" height="10.3" fill="#000" fill-opacity="0.12"/></g>
<g filter="url(#bl3)" opacity="0.4"><rect x="1274.24" y="448.63" width="41.25" height="7.04" rx="3.52" fill="#000" fill-opacity="0.75"/><rect x="1274.24" y="447.39" width="25.81" height="9.1" rx="4.55" fill="#000" fill-opacity="0.9"/><rect x="1329.85" y="449.25" width="36.11" height="6.63" rx="3.31" fill="#000" fill-opacity="0.68"/><rect x="1381.35" y="451.51" width="34.05" height="7.04" rx="3.52" fill="#000" fill-opacity="0.85"/><rect x="1431.81" y="450.48" width="36.11" height="7.04" rx="3.52" fill="#000" fill-opacity="0.8"/><rect x="1483.3" y="448.83" width="35.08" height="7.45" rx="3.73" fill="#000" fill-opacity="0.85"/><rect x="1530.68" y="448.83" width="31.99" height="6.63" rx="3.31" fill="#000" fill-opacity="0.55"/><rect x="1580.11" y="448.01" width="36.11" height="6.63" rx="3.31" fill="#000" fill-opacity="0.75"/><rect x="1594.53" y="444.71" width="21.27" height="10.75" rx="5.37" fill="#000" fill-opacity="0.95" transform="rotate(-4 1605.16 450.09)"/></g>
<g filter="url(#bl)"><rect x="1274.24" y="448.63" width="41.25" height="7.04" rx="3.52" fill="#000" fill-opacity="0.75"/><rect x="1274.24" y="447.39" width="25.81" height="9.1" rx="4.55" fill="#000" fill-opacity="0.9"/><rect x="1329.85" y="449.25" width="36.11" height="6.63" rx="3.31" fill="#000" fill-opacity="0.68"/><rect x="1381.35" y="451.51" width="34.05" height="7.04" rx="3.52" fill="#000" fill-opacity="0.85"/><rect x="1431.81" y="450.48" width="36.11" height="7.04" rx="3.52" fill="#000" fill-opacity="0.8"/><rect x="1483.3" y="448.83" width="35.08" height="7.45" rx="3.73" fill="#000" fill-opacity="0.85"/><rect x="1530.68" y="448.83" width="31.99" height="6.63" rx="3.31" fill="#000" fill-opacity="0.55"/><rect x="1580.11" y="448.01" width="36.11" height="6.63" rx="3.31" fill="#000" fill-opacity="0.75"/><rect x="1594.53" y="444.71" width="21.27" height="10.75" rx="5.37" fill="#000" fill-opacity="0.95" transform="rotate(-4 1605.16 450.09)"/></g>
</g>
</svg>
<svg x="1270.2" y="471.1" width="353.2" height="38.2" viewBox="1270.2 471.1 353.2 38.2" overflow="hidden">
<g filter="url(#nC)">
<rect x="1265.2" y="466.1" width="363.2" height="48.2" fill="#e9e9e9"/>
<g filter="url(#bl3)" opacity="0.4"><rect x="1275.27" y="487.61" width="40.22" height="4.57" rx="2.28" fill="#000" fill-opacity="0.9" transform="rotate(2.5 1295.38 489.89)"/><rect x="1296.9" y="488.02" width="18.6" height="5.8" rx="2.9" fill="#000" fill-opacity="0.9"/><rect x="1328.82" y="490.7" width="31.99" height="4.16" rx="2.08" fill="#000" fill-opacity="0.85"/><rect x="1328.82" y="489.67" width="7.27" height="4.98" rx="2.49" fill="#000" fill-opacity="0.6"/><rect x="1377.23" y="489.46" width="35.08" height="4.57" rx="2.28" fill="#000" fill-opacity="0.85"/><rect x="1377.23" y="488.85" width="18.6" height="5.8" rx="2.9" fill="#000" fill-opacity="0.8"/><rect x="1427.69" y="490.29" width="34.05" height="4.16" rx="2.08" fill="#000" fill-opacity="0.45"/><rect x="1475.06" y="490.29" width="13.45" height="3.74" rx="1.87" fill="#000" fill-opacity="0.55"/><rect x="1502.87" y="490.29" width="7.27" height="4.98" rx="2.49" fill="#000" fill-opacity="0.5" transform="rotate(-30 1506.5 492.78)"/><rect x="1525.53" y="489.87" width="35.08" height="4.98" rx="2.49" fill="#000" fill-opacity="0.85"/><rect x="1542" y="489.87" width="18.6" height="5.8" rx="2.9" fill="#000" fill-opacity="0.8"/><rect x="1574.96" y="490.7" width="37.13" height="6.22" rx="3.11" fill="#000" fill-opacity="0.95"/></g>
<g filter="url(#bl)"><rect x="1275.27" y="487.61" width="40.22" height="4.57" rx="2.28" fill="#000" fill-opacity="0.9" transform="rotate(2.5 1295.38 489.89)"/><rect x="1296.9" y="488.02" width="18.6" height="5.8" rx="2.9" fill="#000" fill-opacity="0.9"/><rect x="1328.82" y="490.7" width="31.99" height="4.16" rx="2.08" fill="#000" fill-opacity="0.85"/><rect x="1328.82" y="489.67" width="7.27" height="4.98" rx="2.49" fill="#000" fill-opacity="0.6"/><rect x="1377.23" y="489.46" width="35.08" height="4.57" rx="2.28" fill="#000" fill-opacity="0.85"/><rect x="1377.23" y="488.85" width="18.6" height="5.8" rx="2.9" fill="#000" fill-opacity="0.8"/><rect x="1427.69" y="490.29" width="34.05" height="4.16" rx="2.08" fill="#000" fill-opacity="0.45"/><rect x="1475.06" y="490.29" width="13.45" height="3.74" rx="1.87" fill="#000" fill-opacity="0.55"/><rect x="1502.87" y="490.29" width="7.27" height="4.98" rx="2.49" fill="#000" fill-opacity="0.5" transform="rotate(-30 1506.5 492.78)"/><rect x="1525.53" y="489.87" width="35.08" height="4.98" rx="2.49" fill="#000" fill-opacity="0.85"/><rect x="1542" y="489.87" width="18.6" height="5.8" rx="2.9" fill="#000" fill-opacity="0.8"/><rect x="1574.96" y="490.7" width="37.13" height="6.22" rx="3.11" fill="#000" fill-opacity="0.95"/></g>
</g>
</svg>
<svg x="1270.2" y="512.3" width="353.2" height="38.1" viewBox="1270.2 512.3 353.2 38.1" overflow="hidden">
<g filter="url(#nE)">
<rect x="1265.2" y="507.3" width="363.2" height="48.1" fill="#dcdcdc"/>
<g filter="url(#bl3)"><rect x="1277.36" y="529.85" width="42.22" height="20.6" fill="#000" fill-opacity="0.22"/><rect x="1329.88" y="533.97" width="38.11" height="16.48" fill="#000" fill-opacity="0.18"/><rect x="1379.32" y="536.03" width="38.11" height="14.42" fill="#000" fill-opacity="0.2"/><rect x="1428.75" y="537.06" width="38.11" height="13.39" fill="#000" fill-opacity="0.2"/><rect x="1479.21" y="538.09" width="37.08" height="12.36" fill="#000" fill-opacity="0.2"/><rect x="1526.59" y="538.09" width="39.13" height="12.36" fill="#000" fill-opacity="0.22"/><rect x="1576.02" y="538.09" width="39.13" height="12.36" fill="#000" fill-opacity="0.22"/></g>
<g filter="url(#bl3)" opacity="0.4"><rect x="1278.36" y="525.3" width="40.22" height="5.8" rx="2.9" fill="#000" fill-opacity="0.6"/><rect x="1278.36" y="523.45" width="9.33" height="7.04" rx="3.52" fill="#000" fill-opacity="0.8"/><rect x="1310.28" y="524.48" width="8.3" height="6.63" rx="3.31" fill="#000" fill-opacity="0.6"/><rect x="1330.88" y="528.8" width="36.11" height="6.22" rx="3.11" fill="#000" fill-opacity="0.4"/><rect x="1380.32" y="530.25" width="36.11" height="6.63" rx="3.31" fill="#000" fill-opacity="0.85"/><rect x="1380.32" y="529.42" width="9.33" height="7.45" rx="3.73" fill="#000" fill-opacity="0.7"/><rect x="1429.75" y="531.89" width="36.11" height="6.22" rx="3.11" fill="#000" fill-opacity="0.78"/><rect x="1480.21" y="532.31" width="35.08" height="7.45" rx="3.73" fill="#000" fill-opacity="0.93"/><rect x="1527.59" y="531.69" width="37.13" height="9.51" rx="4.76" fill="#000" fill-opacity="0.97"/><rect x="1577.02" y="531.48" width="37.13" height="9.1" rx="4.55" fill="#000" fill-opacity="0.96"/></g>
<g filter="url(#bl)"><rect x="1278.36" y="525.3" width="40.22" height="5.8" rx="2.9" fill="#000" fill-opacity="0.6"/><rect x="1278.36" y="523.45" width="9.33" height="7.04" rx="3.52" fill="#000" fill-opacity="0.8"/><rect x="1310.28" y="524.48" width="8.3" height="6.63" rx="3.31" fill="#000" fill-opacity="0.6"/><rect x="1330.88" y="528.8" width="36.11" height="6.22" rx="3.11" fill="#000" fill-opacity="0.4"/><rect x="1380.32" y="530.25" width="36.11" height="6.63" rx="3.31" fill="#000" fill-opacity="0.85"/><rect x="1380.32" y="529.42" width="9.33" height="7.45" rx="3.73" fill="#000" fill-opacity="0.7"/><rect x="1429.75" y="531.89" width="36.11" height="6.22" rx="3.11" fill="#000" fill-opacity="0.78"/><rect x="1480.21" y="532.31" width="35.08" height="7.45" rx="3.73" fill="#000" fill-opacity="0.93"/><rect x="1527.59" y="531.69" width="37.13" height="9.51" rx="4.76" fill="#000" fill-opacity="0.97"/><rect x="1577.02" y="531.48" width="37.13" height="9.1" rx="4.55" fill="#000" fill-opacity="0.96"/></g>
</g>
</svg>
<svg x="1270.2" y="551.5" width="353.2" height="43" viewBox="1270.2 551.5 353.2 43" overflow="hidden">
<g filter="url(#nC)">
<rect x="1265.2" y="546.5" width="363.2" height="53" fill="#f7f7f7"/>
<g filter="url(#bl3)" opacity="0.4"><rect x="1278.36" y="573.52" width="38.78" height="6.63" rx="3.31" fill="#000" fill-opacity="0.95"/><rect x="1278.36" y="563.84" width="37.13" height="5.39" rx="2.7" fill="#000" fill-opacity="0.2"/><rect x="1331.91" y="575.17" width="34.05" height="5.39" rx="2.7" fill="#000" fill-opacity="0.85"/><rect x="1331.91" y="564.46" width="33.02" height="4.98" rx="2.49" fill="#000" fill-opacity="0.13"/><rect x="1380.93" y="576.2" width="34.46" height="6.22" rx="3.11" fill="#000" fill-opacity="0.93"/><rect x="1380.93" y="566.11" width="33.43" height="4.98" rx="2.49" fill="#000" fill-opacity="0.18"/><rect x="1429.75" y="574.96" width="35.08" height="5.8" rx="2.9" fill="#000" fill-opacity="0.9"/><rect x="1430.78" y="564.46" width="33.02" height="4.98" rx="2.49" fill="#000" fill-opacity="0.17"/><rect x="1479.18" y="573.93" width="34.05" height="6.63" rx="3.31" fill="#000" fill-opacity="0.95"/><rect x="1479.18" y="564.87" width="33.02" height="5.39" rx="2.7" fill="#000" fill-opacity="0.2"/><rect x="1525.53" y="574.76" width="37.13" height="6.22" rx="3.11" fill="#000" fill-opacity="0.93"/><rect x="1526.56" y="564.46" width="35.08" height="5.39" rx="2.7" fill="#000" fill-opacity="0.18"/><rect x="1575.99" y="571.67" width="36.11" height="7.04" rx="3.52" fill="#000" fill-opacity="0.96" transform="rotate(-2 1594.04 575.19)"/><rect x="1577.02" y="561.78" width="35.08" height="5.39" rx="2.7" fill="#000" fill-opacity="0.25" transform="rotate(-2 1594.56 564.48)"/><rect x="1621.92" y="570.23" width="0.88" height="7.04" rx="3.52" fill="#000" fill-opacity="0.5"/></g>
<g filter="url(#bl)"><rect x="1278.36" y="573.52" width="38.78" height="6.63" rx="3.31" fill="#000" fill-opacity="0.95"/><rect x="1278.36" y="563.84" width="37.13" height="5.39" rx="2.7" fill="#000" fill-opacity="0.2"/><rect x="1331.91" y="575.17" width="34.05" height="5.39" rx="2.7" fill="#000" fill-opacity="0.85"/><rect x="1331.91" y="564.46" width="33.02" height="4.98" rx="2.49" fill="#000" fill-opacity="0.13"/><rect x="1380.93" y="576.2" width="34.46" height="6.22" rx="3.11" fill="#000" fill-opacity="0.93"/><rect x="1380.93" y="566.11" width="33.43" height="4.98" rx="2.49" fill="#000" fill-opacity="0.18"/><rect x="1429.75" y="574.96" width="35.08" height="5.8" rx="2.9" fill="#000" fill-opacity="0.9"/><rect x="1430.78" y="564.46" width="33.02" height="4.98" rx="2.49" fill="#000" fill-opacity="0.17"/><rect x="1479.18" y="573.93" width="34.05" height="6.63" rx="3.31" fill="#000" fill-opacity="0.95"/><rect x="1479.18" y="564.87" width="33.02" height="5.39" rx="2.7" fill="#000" fill-opacity="0.2"/><rect x="1525.53" y="574.76" width="37.13" height="6.22" rx="3.11" fill="#000" fill-opacity="0.93"/><rect x="1526.56" y="564.46" width="35.08" height="5.39" rx="2.7" fill="#000" fill-opacity="0.18"/><rect x="1575.99" y="571.67" width="36.11" height="7.04" rx="3.52" fill="#000" fill-opacity="0.96" transform="rotate(-2 1594.04 575.19)"/><rect x="1577.02" y="561.78" width="35.08" height="5.39" rx="2.7" fill="#000" fill-opacity="0.25" transform="rotate(-2 1594.56 564.48)"/><rect x="1621.92" y="570.23" width="0.88" height="7.04" rx="3.52" fill="#000" fill-opacity="0.5"/></g>
</g>
</svg>
<svg x="1270.2" y="597.3" width="353.2" height="37.3" viewBox="1270.2 597.3 353.2 37.3" overflow="hidden">
<g filter="url(#nD)">
<rect x="1265.2" y="592.3" width="363.2" height="47.3" fill="#a0a0a0"/>
<g filter="url(#bl3)"><rect x="1273.24" y="597.43" width="43.25" height="37.08" fill="#000" fill-opacity="0.22"/><rect x="1325.76" y="597.43" width="38.11" height="37.08" fill="#000" fill-opacity="0.22"/><rect x="1374.17" y="597.43" width="39.13" height="37.08" fill="#000" fill-opacity="0.22"/><rect x="1424.63" y="597.43" width="40.16" height="37.08" fill="#000" fill-opacity="0.22"/><rect x="1475.09" y="597.43" width="40.16" height="37.08" fill="#000" fill-opacity="0.22"/><rect x="1524.53" y="597.43" width="40.16" height="37.08" fill="#000" fill-opacity="0.22"/><rect x="1576.02" y="597.43" width="39.13" height="37.08" fill="#000" fill-opacity="0.22"/></g>
<g filter="url(#bl3)" opacity="0.4"><rect x="1275.89" y="603.18" width="38.58" height="7.04" rx="3.52" fill="#000" fill-opacity="0.5"/><rect x="1275.89" y="613.28" width="38.58" height="7.45" rx="3.73" fill="#000" fill-opacity="0.8"/><rect x="1328.41" y="602.15" width="33.43" height="7.04" rx="3.52" fill="#000" fill-opacity="0.55"/><rect x="1328.41" y="614.31" width="33.43" height="7.45" rx="3.73" fill="#000" fill-opacity="0.75"/><rect x="1376.81" y="606.27" width="34.46" height="7.04" rx="3.52" fill="#000" fill-opacity="0.45"/><rect x="1376.81" y="617.4" width="34.46" height="7.45" rx="3.73" fill="#000" fill-opacity="0.7"/><rect x="1427.28" y="606.27" width="35.49" height="7.04" rx="3.52" fill="#000" fill-opacity="0.45"/><rect x="1427.28" y="618.42" width="35.49" height="7.45" rx="3.73" fill="#000" fill-opacity="0.72"/><rect x="1477.74" y="606.27" width="35.49" height="7.04" rx="3.52" fill="#000" fill-opacity="0.55"/><rect x="1477.74" y="618.84" width="35.49" height="7.45" rx="3.73" fill="#000" fill-opacity="0.85"/><rect x="1527.17" y="606.27" width="35.49" height="7.04" rx="3.52" fill="#000" fill-opacity="0.6"/><rect x="1527.17" y="619.66" width="35.49" height="9.1" rx="4.55" fill="#000" fill-opacity="0.95"/><rect x="1578.67" y="606.27" width="34.46" height="7.04" rx="3.52" fill="#000" fill-opacity="0.5"/><rect x="1578.67" y="620.07" width="34.46" height="7.45" rx="3.73" fill="#000" fill-opacity="0.88"/></g>
<g filter="url(#bl)"><rect x="1275.89" y="603.18" width="38.58" height="7.04" rx="3.52" fill="#000" fill-opacity="0.5"/><rect x="1275.89" y="613.28" width="38.58" height="7.45" rx="3.73" fill="#000" fill-opacity="0.8"/><rect x="1328.41" y="602.15" width="33.43" height="7.04" rx="3.52" fill="#000" fill-opacity="0.55"/><rect x="1328.41" y="614.31" width="33.43" height="7.45" rx="3.73" fill="#000" fill-opacity="0.75"/><rect x="1376.81" y="606.27" width="34.46" height="7.04" rx="3.52" fill="#000" fill-opacity="0.45"/><rect x="1376.81" y="617.4" width="34.46" height="7.45" rx="3.73" fill="#000" fill-opacity="0.7"/><rect x="1427.28" y="606.27" width="35.49" height="7.04" rx="3.52" fill="#000" fill-opacity="0.45"/><rect x="1427.28" y="618.42" width="35.49" height="7.45" rx="3.73" fill="#000" fill-opacity="0.72"/><rect x="1477.74" y="606.27" width="35.49" height="7.04" rx="3.52" fill="#000" fill-opacity="0.55"/><rect x="1477.74" y="618.84" width="35.49" height="7.45" rx="3.73" fill="#000" fill-opacity="0.85"/><rect x="1527.17" y="606.27" width="35.49" height="7.04" rx="3.52" fill="#000" fill-opacity="0.6"/><rect x="1527.17" y="619.66" width="35.49" height="9.1" rx="4.55" fill="#000" fill-opacity="0.95"/><rect x="1578.67" y="606.27" width="34.46" height="7.04" rx="3.52" fill="#000" fill-opacity="0.5"/><rect x="1578.67" y="620.07" width="34.46" height="7.45" rx="3.73" fill="#000" fill-opacity="0.88"/></g>
</g>
</svg>
<svg x="1270.2" y="640" width="353.2" height="38.2" viewBox="1270.2 640 353.2 38.2" overflow="hidden">
<g filter="url(#nC)">
<rect x="1265.2" y="635" width="363.2" height="48.2" fill="#e7e7e7"/>
<g filter="url(#bl3)"><rect x="1280.45" y="639.82" width="39.13" height="17.1" fill="#000" fill-opacity="0.1"/><rect x="1329.88" y="639.82" width="38.11" height="19.16" fill="#000" fill-opacity="0.11"/><rect x="1378.29" y="639.82" width="40.16" height="21.22" fill="#000" fill-opacity="0.12"/><rect x="1427.72" y="639.82" width="40.16" height="22.25" fill="#000" fill-opacity="0.12"/><rect x="1477.15" y="639.82" width="38.11" height="22.25" fill="#000" fill-opacity="0.1"/><rect x="1526.59" y="639.82" width="40.16" height="21.22" fill="#000" fill-opacity="0.1"/><rect x="1578.08" y="639.82" width="39.13" height="19.16" fill="#000" fill-opacity="0.1"/></g>
<g filter="url(#bl3)" opacity="0.4"><rect x="1282.48" y="656.28" width="35.08" height="4.98" rx="2.49" fill="#000" fill-opacity="0.95" transform="rotate(2 1300.02 658.77)"/><rect x="1331.91" y="658.75" width="34.05" height="5.39" rx="2.7" fill="#000" fill-opacity="0.95" transform="rotate(2 1348.93 661.44)"/><rect x="1348.39" y="658.95" width="17.57" height="6.63" rx="3.31" fill="#000" fill-opacity="0.9"/><rect x="1380.32" y="660.4" width="36.11" height="6.22" rx="3.11" fill="#000" fill-opacity="0.96"/><rect x="1429.75" y="661.01" width="36.11" height="6.22" rx="3.11" fill="#000" fill-opacity="0.96"/><rect x="1479.18" y="661.22" width="34.05" height="5.8" rx="2.9" fill="#000" fill-opacity="0.96"/><rect x="1528.62" y="659.78" width="36.11" height="5.8" rx="2.9" fill="#000" fill-opacity="0.96"/><rect x="1580.11" y="658.13" width="35.08" height="4.98" rx="2.49" fill="#000" fill-opacity="0.95" transform="rotate(-2 1597.65 660.62)"/></g>
<g filter="url(#bl)"><rect x="1282.48" y="656.28" width="35.08" height="4.98" rx="2.49" fill="#000" fill-opacity="0.95" transform="rotate(2 1300.02 658.77)"/><rect x="1331.91" y="658.75" width="34.05" height="5.39" rx="2.7" fill="#000" fill-opacity="0.95" transform="rotate(2 1348.93 661.44)"/><rect x="1348.39" y="658.95" width="17.57" height="6.63" rx="3.31" fill="#000" fill-opacity="0.9"/><rect x="1380.32" y="660.4" width="36.11" height="6.22" rx="3.11" fill="#000" fill-opacity="0.96"/><rect x="1429.75" y="661.01" width="36.11" height="6.22" rx="3.11" fill="#000" fill-opacity="0.96"/><rect x="1479.18" y="661.22" width="34.05" height="5.8" rx="2.9" fill="#000" fill-opacity="0.96"/><rect x="1528.62" y="659.78" width="36.11" height="5.8" rx="2.9" fill="#000" fill-opacity="0.96"/><rect x="1580.11" y="658.13" width="35.08" height="4.98" rx="2.49" fill="#000" fill-opacity="0.95" transform="rotate(-2 1597.65 660.62)"/></g>
</g>
</svg>
</g>
</svg>
</body>
</html>
